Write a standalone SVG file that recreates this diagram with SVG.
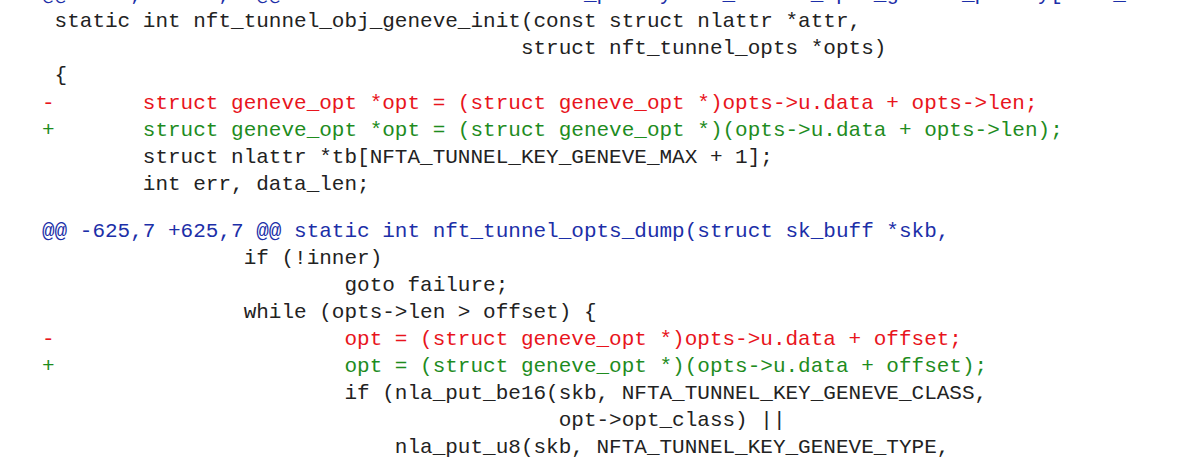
<svg xmlns="http://www.w3.org/2000/svg" width="1200" height="469" viewBox="0 0 1200 469">
<style>
text{font-family:"Liberation Mono","DejaVu Sans Mono",monospace;font-size:21px;fill:#222;white-space:pre}
.h{fill:#1c2fa8}.d{fill:#e8141c}.a{fill:#1e8c1e}
</style>
<rect width="1200" height="469" fill="#fff"/>
<g xml:space="preserve">
<text class="h" x="42" y="0">@@ -542,7 +542,7 @@ static const struct nla_policy nft_tunnel_opts_geneve_policy[NFTA_TUNNEL_KEY_GENEVE_MAX + 1] = {</text>
<text x="42" y="27"> static int nft_tunnel_obj_geneve_init(const struct nlattr *attr,</text>
<text x="42" y="54">                                      struct nft_tunnel_opts *opts)</text>
<text x="42" y="81"> {</text>
<text class="d" x="42" y="109">-       struct geneve_opt *opt = (struct geneve_opt *)opts->u.data + opts->len;</text>
<text class="a" x="42" y="136">+       struct geneve_opt *opt = (struct geneve_opt *)(opts->u.data + opts->len);</text>
<text x="42" y="163">        struct nlattr *tb[NFTA_TUNNEL_KEY_GENEVE_MAX + 1];</text>
<text x="42" y="190">        int err, data_len;</text>
<text class="h" x="42" y="237">@@ -625,7 +625,7 @@ static int nft_tunnel_opts_dump(struct sk_buff *skb,</text>
<text x="42" y="264">                if (!inner)</text>
<text x="42" y="291">                        goto failure;</text>
<text x="42" y="318">                while (opts->len > offset) {</text>
<text class="d" x="42" y="345">-                       opt = (struct geneve_opt *)opts->u.data + offset;</text>
<text class="a" x="42" y="372">+                       opt = (struct geneve_opt *)(opts->u.data + offset);</text>
<text x="42" y="399">                        if (nla_put_be16(skb, NFTA_TUNNEL_KEY_GENEVE_CLASS,</text>
<text x="42" y="426">                                         opt->opt_class) ||</text>
<text x="42" y="453">                            nla_put_u8(skb, NFTA_TUNNEL_KEY_GENEVE_TYPE,</text>
</g>
</svg>
